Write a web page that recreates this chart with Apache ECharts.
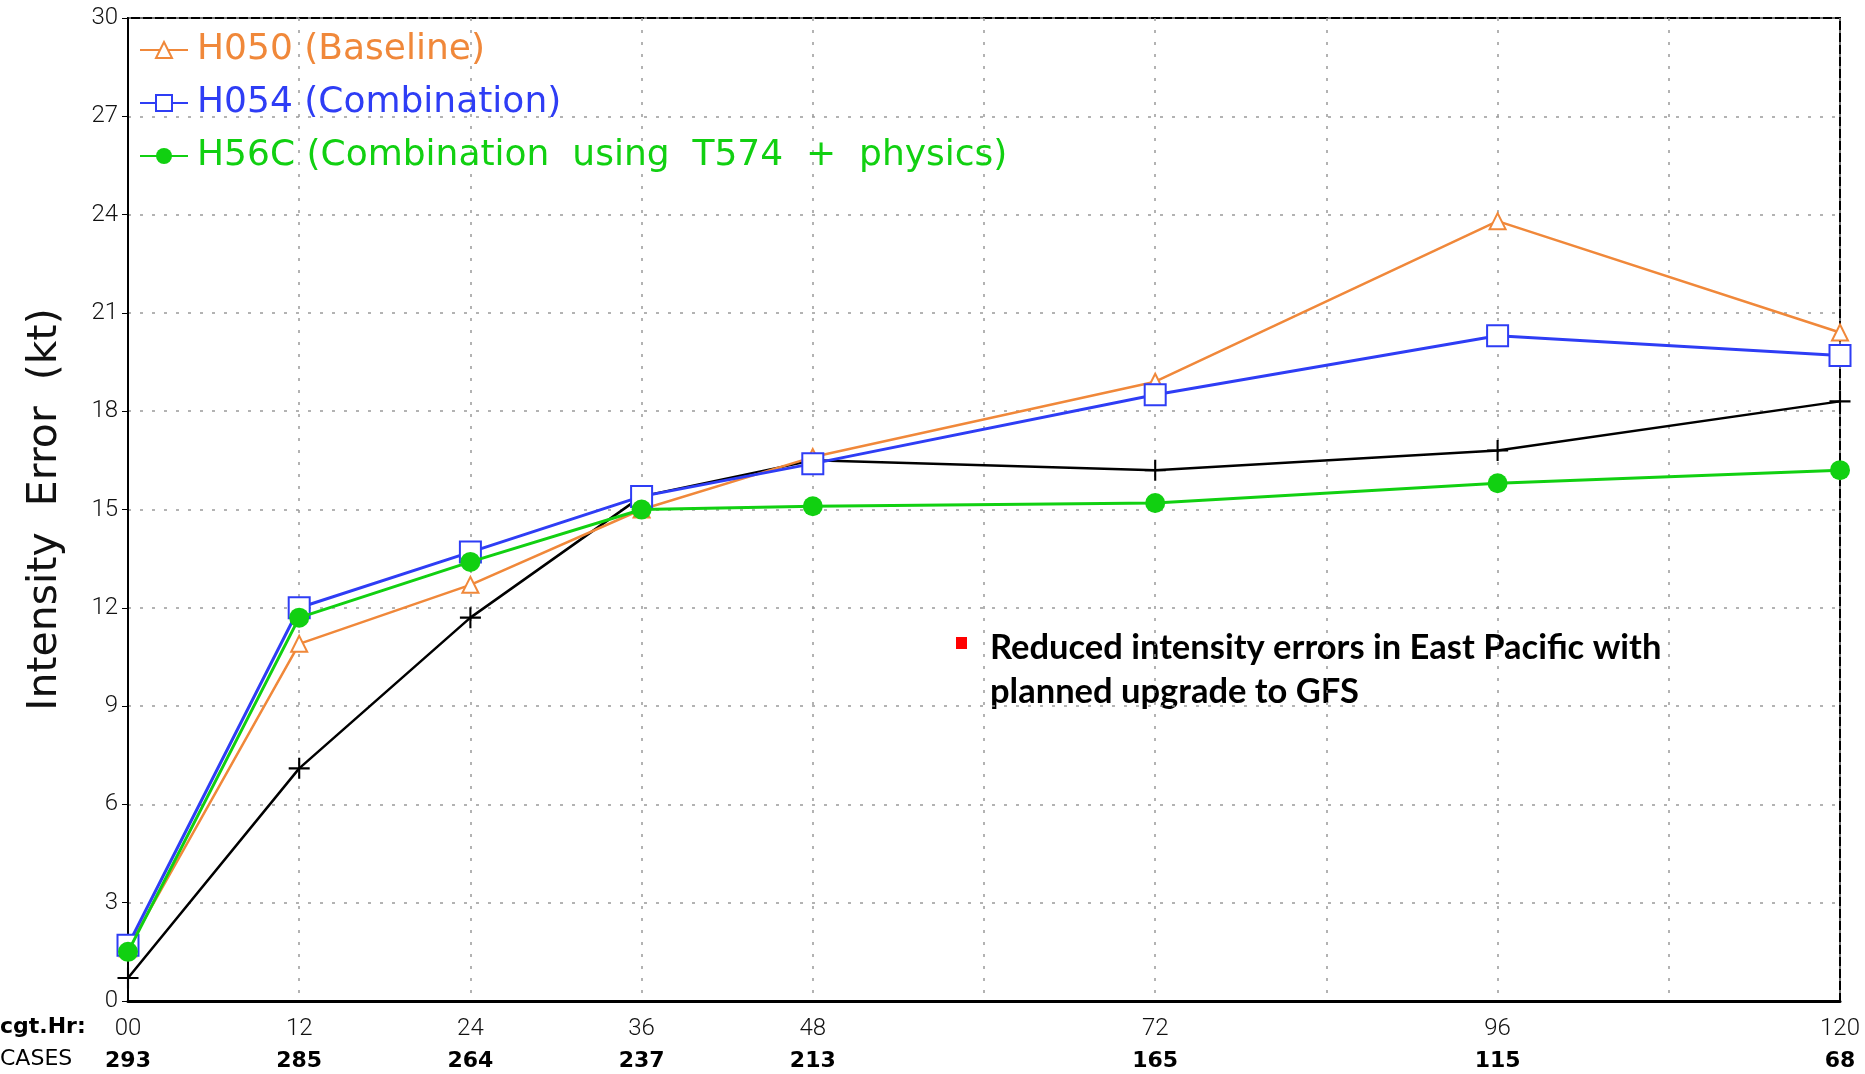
<!DOCTYPE html>
<html>
<head>
<meta charset="utf-8">
<script src="https://cdn.jsdelivr.net/npm/echarts@6/dist/echarts.min.js"></script>
<style>
html,body{margin:0;padding:0;background:#fff;}
#chart{width:1865px;height:1074px;}
</style>
</head>
<body>
<div id="chart"></div>
<script>
// ---- data ----
const hours = [0, 12, 24, 36, 48, 72, 96, 120];
const hourLabels = ['00', '12', '24', '36', '48', '72', '96', '120'];
const cases = [293, 285, 264, 237, 213, 165, 115, 68];
const seriesNames = ['H050 (Baseline)', 'H054 (Combination)', 'H56C (Combination  using  T574  +  physics)', 'Reference'];
const h050 = [1.6, 10.9, 12.7, 15.0, 16.6, 18.9, 23.8, 20.4];
const h054 = [1.7, 12.0, 13.7, 15.4, 16.4, 18.5, 20.3, 19.7];
const h56c = [1.5, 11.7, 13.4, 15.0, 15.1, 15.2, 15.8, 16.2];
const refLine = [0.7, 7.1, 11.7, 15.4, 16.5, 16.2, 16.8, 18.3];
const yLabel = 'Intensity  Error  (kt)';
const noteText = ['Reduced intensity errors in East Pacific with', 'planned upgrade to GFS'];

const zip = arr => hours.map((h, i) => [h, arr[i]]);
const plusPath = 'path://M9,0H11V9H20V11H11V20H9V11H0V9H9Z';
const thinFont = 'DejaVu Sans';
const tickFont = 'Roboto';

const chart = echarts.init(document.getElementById('chart'));
chart.setOption({
  backgroundColor: '#fff',
  animation: false,
  grid: { left: 128, right: 25, top: 18, bottom: 73, show: true, borderColor: '#000', borderWidth: 2, backgroundColor: 'transparent' },
  legend: {
    orient: 'vertical', left: 134, top: 27, itemWidth: 48, itemHeight: 20, itemGap: 17,
    textStyle: { fontFamily: thinFont, fontSize: 36, padding: [0, 0, 0, 4] },
    data: [
      { name: seriesNames[0], textStyle: { color: '#F0883A' } },
      { name: seriesNames[1], textStyle: { color: '#2E3DF5' } },
      { name: seriesNames[2], textStyle: { color: '#11D011' } }
    ]
  },
  xAxis: {
    type: 'value', min: 0, max: 120, interval: 12,
    axisLine: { show: true, lineStyle: { color: '#000', width: 3 } },
    axisTick: { show: false },
    splitLine: { show: true, lineStyle: { color: '#9a9a9a', type: [3, 9], width: 1.5 } },
    axisLabel: {
      margin: 12, showMaxLabel: true, showMinLabel: true,
      formatter: v => { const i = hours.indexOf(v); return i < 0 ? '' : '{h|' + hourLabels[i] + '}\n{c|' + cases[i] + '}'; },
      rich: {
        h: { fontFamily: tickFont, fontWeight: 300, fontSize: 24, color: '#111', lineHeight: 32 },
        c: { fontFamily: thinFont, fontSize: 22, fontWeight: 'bold', color: '#000', lineHeight: 32 }
      }
    }
  },
  yAxis: {
    type: 'value', min: 0, max: 30, interval: 3,
    name: yLabel, nameLocation: 'middle', nameGap: 62, nameRotate: 90,
    nameTextStyle: { fontFamily: thinFont, fontSize: 41, color: '#111' },
    axisLine: { show: true, lineStyle: { color: '#000', width: 2 } },
    axisTick: { show: true, length: 6, lineStyle: { color: '#000' } },
    splitLine: { show: true, lineStyle: { color: '#9a9a9a', type: [3, 9], width: 1.5 } },
    axisLabel: { fontFamily: tickFont, fontWeight: 300, fontSize: 24, color: '#111', margin: 10 }
  },
  series: [
    { name: seriesNames[3], type: 'line', data: zip(refLine), symbol: plusPath, symbolSize: 21, z: 3,
      lineStyle: { color: '#000', width: 2.5 }, itemStyle: { color: '#000' } },
    { name: seriesNames[0], type: 'line', data: zip(h050), symbol: 'emptyTriangle', symbolSize: 16, z: 4,
      lineStyle: { color: '#F0883A', width: 2.5 }, itemStyle: { color: '#F0883A', borderWidth: 2 } },
    { name: seriesNames[1], type: 'line', data: zip(h054), symbol: 'emptyRect', symbolSize: 21, z: 5,
      lineStyle: { color: '#2E3DF5', width: 3 }, itemStyle: { color: '#2E3DF5', borderWidth: 2.5 } },
    { name: seriesNames[2], type: 'line', data: zip(h56c), symbol: 'circle', symbolSize: 20, z: 6,
      lineStyle: { color: '#11D011', width: 3 }, itemStyle: { color: '#11D011' } }
  ],
  graphic: [
    { type: 'text', left: 0, top: 1016, style: { text: 'cgt.Hr:', fontFamily: thinFont, fontSize: 22, fontWeight: 'bold', fill: '#000' } },
    { type: 'text', left: 0, top: 1048, style: { text: 'CASES', fontFamily: thinFont, fontSize: 22, fill: '#000' } },
    { type: 'rect', shape: { x: 956, y: 637, width: 11, height: 12 }, style: { fill: '#FF0000' } },
    { type: 'text', left: 990, top: 626, style: { text: noteText.join('\n'), fontFamily: 'Lato', fontWeight: 'bold', fontSize: 34.5, lineHeight: 44, fill: '#000' } }
  ]
});
</script>
</body>
</html>
